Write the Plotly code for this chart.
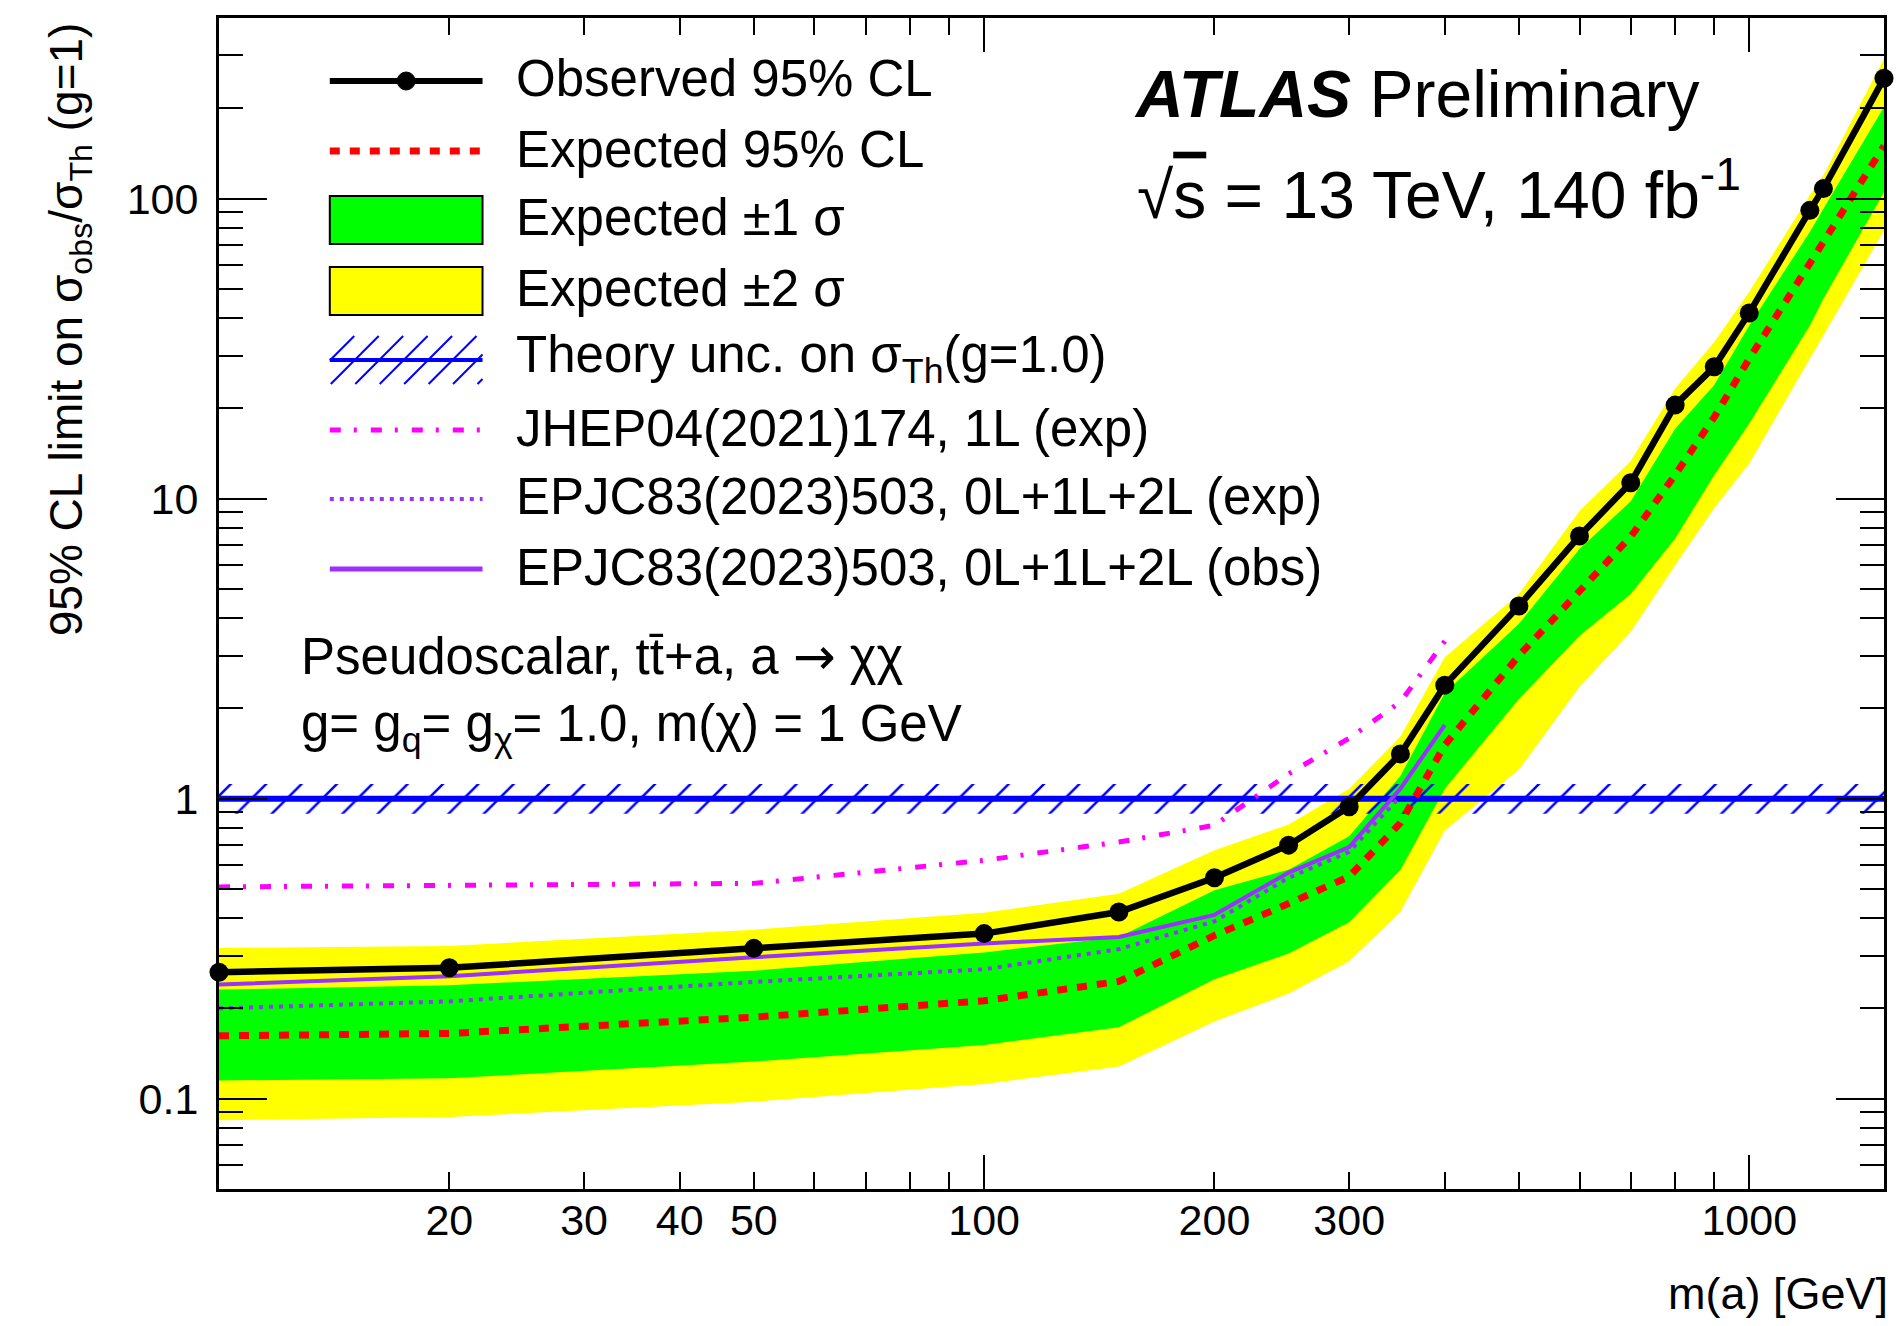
import math
import plotly.graph_objects as go

# ---------------- data ----------------
mass = [10, 20, 50, 100, 150, 200, 250, 300, 350, 400, 500, 600, 700, 800, 900, 1000, 1200, 1250, 1500]
observed = [0.264, 0.273, 0.317, 0.355, 0.419, 0.545, 0.700, 0.940, 1.41, 2.39, 4.39, 7.51, 11.3, 20.5, 27.5, 41.6, 91.4, 108.0, 252.0]
expected = [0.162, 0.165, 0.187, 0.212, 0.246, 0.350, 0.447, 0.550, 0.830, 1.51, 3.00, 4.88, 7.47, 12.0, 18.7, 29.3, 59.9, 71.7, 150.0]
exp_plus1 = [0.231, 0.239, 0.267, 0.307, 0.346, 0.495, 0.580, 0.750, 1.19, 2.25, 3.83, 6.80, 9.80, 17.1, 23.9, 37.8, 77.4, 92.6, 202.0]
exp_minus1 = [0.115, 0.117, 0.133, 0.151, 0.173, 0.250, 0.305, 0.387, 0.578, 1.08, 2.15, 3.49, 4.81, 7.36, 12.0, 17.8, 37.8, 46.4, 105.0]
exp_plus2 = [0.318, 0.323, 0.366, 0.417, 0.482, 0.673, 0.820, 1.08, 1.61, 2.96, 4.81, 9.10, 13.35, 23.3, 33.3, 48.9, 102.6, 119.6, 293.0]
exp_minus2 = [0.0847, 0.0869, 0.0977, 0.112, 0.128, 0.181, 0.224, 0.287, 0.420, 0.783, 1.25, 2.36, 3.60, 6.00, 9.30, 13.1, 29.3, 35.0, 78.4]

jhep_mass = [10, 20, 50, 100, 150, 200, 250, 300, 350, 400]
jhep_exp = [0.508, 0.512, 0.522, 0.623, 0.717, 0.815, 1.21, 1.59, 2.10, 3.35]

epjc_obs_mass = [10, 20, 50, 100, 150, 200, 250, 300, 350, 400]
epjc_obs = [0.240, 0.256, 0.296, 0.329, 0.346, 0.410, 0.567, 0.690, 1.08, 1.76]
epjc_exp_mass = [10, 20, 50, 100, 150, 200, 250, 300, 350]
epjc_exp = [0.200, 0.211, 0.245, 0.270, 0.315, 0.390, 0.545, 0.665, 1.02]

theory_mass = [10, 1500]
theory_central = [1.0, 1.0]
theory_up = [1.12, 1.12]
theory_down = [0.89, 0.89]

x_major_ticks = [100, 1000]
x_minor_ticks = [20, 30, 40, 50, 60, 70, 80, 90, 200, 300, 400, 500, 600, 700, 800, 900]
x_extra_labels = [20, 30, 40, 50, 200, 300]
y_major_ticks = [0.1, 1, 10, 100]
y_major_text = ["0.1", "1", "10", "100"]
y_minor_ticks = [0.06, 0.07, 0.08, 0.09, 0.2, 0.3, 0.4, 0.5, 0.6, 0.7, 0.8, 0.9,
                 2, 3, 4, 5, 6, 7, 8, 9, 20, 30, 40, 50, 60, 70, 80, 90, 200, 300]
x_range = [10, 1500]
y_range = [0.05, 400]

legend_labels = [
    "Observed 95% CL",
    "Expected 95% CL",
    "Expected \u00b11 \u03c3",
    "Expected \u00b12 \u03c3",
    "Theory unc. on \u03c3<sub>Th</sub>(g=1.0)",
    "JHEP04(2021)174, 1L (exp)",
    "EPJC83(2023)503, 0L+1L+2L (exp)",
    "EPJC83(2023)503, 0L+1L+2L (obs)",
]

# ---------------- styling ----------------
W, H = 1896, 1326
X0, X1, Y0, Y1 = 219, 1887, 18, 1189   # plot area in pixels
FONT = "Liberation Sans, Arial, Helvetica, sans-serif"
YELLOW = "#ffff00"
GREEN = "#00ff00"
RED = "#ff0000"
BLUE = "#0000ff"
MAGENTA = "#ff00ff"
PURPLE = "#9b30ff"


def px(x):
    return (x - X0) / (X1 - X0)


def py(y):
    return (Y1 - y) / (Y1 - Y0)


fig = go.Figure()

# +-2 sigma band
fig.add_trace(go.Scatter(
    x=mass + mass[::-1], y=exp_plus2 + exp_minus2[::-1],
    fill="toself", fillcolor=YELLOW, mode="lines", line=dict(width=0, color=YELLOW),
    hoverinfo="skip", showlegend=False))
# +-1 sigma band
fig.add_trace(go.Scatter(
    x=mass + mass[::-1], y=exp_plus1 + exp_minus1[::-1],
    fill="toself", fillcolor=GREEN, mode="lines", line=dict(width=0, color=GREEN),
    hoverinfo="skip", showlegend=False))
# theory uncertainty hatched band
fig.add_trace(go.Scatter(
    x=theory_mass + theory_mass[::-1], y=theory_up + theory_down[::-1],
    fill="toself", fillcolor="rgba(0,0,0,0)", mode="lines",
    line=dict(width=0, color=BLUE),
    fillpattern=dict(shape="/", fgcolor=BLUE, fgopacity=1, bgcolor="rgba(0,0,0,0)",
                     size=25, solidity=0.1),
    hoverinfo="skip", showlegend=False))
fig.add_trace(go.Scatter(
    x=theory_mass, y=theory_central, mode="lines",
    line=dict(color=BLUE, width=6), hoverinfo="skip", showlegend=False))
# JHEP
fig.add_trace(go.Scatter(
    x=jhep_mass, y=jhep_exp, mode="lines",
    line=dict(color=MAGENTA, width=5, dash="11px,13px,3px,14px"),
    showlegend=False))
# EPJC exp
fig.add_trace(go.Scatter(
    x=epjc_exp_mass, y=epjc_exp, mode="lines",
    line=dict(color=PURPLE, width=4, dash="4px,6px"), showlegend=False))
# EPJC obs
fig.add_trace(go.Scatter(
    x=epjc_obs_mass, y=epjc_obs, mode="lines",
    line=dict(color=PURPLE, width=4), showlegend=False))
# expected
fig.add_trace(go.Scatter(
    x=mass, y=expected, mode="lines",
    line=dict(color=RED, width=7, dash="10px,10px"), showlegend=False))
# observed
fig.add_trace(go.Scatter(
    x=mass, y=observed, mode="lines+markers",
    line=dict(color="black", width=6.5), marker=dict(color="black", size=19),
    cliponaxis=False, showlegend=False))
# invisible trace carrying the extra x label axis
fig.add_trace(go.Scatter(
    x=mass, y=observed, xaxis="x2", mode="lines", line=dict(width=0),
    opacity=0, hoverinfo="skip", showlegend=False))

xr = [math.log10(v) for v in x_range]
yr = [math.log10(v) for v in y_range]

fig.update_layout(
    width=W, height=H, autosize=False,
    margin=dict(l=X0, r=W - X1, t=Y0, b=H - Y1, pad=0),
    paper_bgcolor="white", plot_bgcolor="white",
    font=dict(family=FONT, color="black"),
    xaxis=dict(
        type="log", range=xr, showgrid=False, zeroline=False,
        showline=True, linecolor="black", linewidth=3, mirror="ticks",
        ticks="inside", ticklen=34, tickwidth=2, tickcolor="black",
        tickmode="array", tickvals=x_major_ticks, ticktext=[str(v) for v in x_major_ticks],
        tickfont=dict(size=43, family=FONT), ticklabelstandoff=-9,
        minor=dict(ticks="inside", ticklen=17, tickwidth=2, tickcolor="black",
                   tickmode="array", tickvals=x_minor_ticks, showgrid=False),
    ),
    xaxis2=dict(
        type="log", range=xr, overlaying="x", anchor="y", side="bottom",
        showgrid=False, zeroline=False, showline=True, linecolor="black", linewidth=3,
        ticks="", tickmode="array", tickvals=x_extra_labels,
        ticktext=[str(v) for v in x_extra_labels],
        tickfont=dict(size=43, family=FONT), ticklabelstandoff=-9,
    ),
    yaxis=dict(
        type="log", range=yr, showgrid=False, zeroline=False,
        showline=True, linecolor="black", linewidth=3, mirror="ticks",
        ticks="inside", ticklen=48, tickwidth=2, tickcolor="black",
        tickmode="array", tickvals=y_major_ticks, ticktext=y_major_text,
        tickfont=dict(size=43, family=FONT), ticklabelstandoff=9,
        minor=dict(ticks="inside", ticklen=24, tickwidth=2, tickcolor="black",
                   tickmode="array", tickvals=y_minor_ticks, showgrid=False),
    ),
)

# ---------------- legend drawn by hand ----------------
shapes = []
annotations = []
row_y = [81, 151, 220, 291, 360, 430, 499, 569]
LX0, LX1 = 330, 483
TX = 515

# observed: line + marker
shapes.append(dict(type="line", xref="paper", yref="paper", x0=px(LX0), x1=px(LX1),
                   y0=py(row_y[0]), y1=py(row_y[0]), line=dict(color="black", width=6)))
r = 9
cx = (LX0 + LX1) / 2
shapes.append(dict(type="circle", xref="paper", yref="paper",
                   x0=px(cx - r), x1=px(cx + r), y0=py(row_y[0] + r), y1=py(row_y[0] - r),
                   fillcolor="black", line=dict(color="black", width=1)))
# expected
shapes.append(dict(type="line", xref="paper", yref="paper", x0=px(LX0), x1=px(LX1),
                   y0=py(row_y[1]), y1=py(row_y[1]), line=dict(color=RED, width=7, dash="10px,10px")))
# green & yellow boxes
for ri, col in [(2, GREEN), (3, YELLOW)]:
    shapes.append(dict(type="rect", xref="paper", yref="paper", x0=px(LX0), x1=px(LX1),
                       y0=py(row_y[ri] + 24), y1=py(row_y[ri] - 24),
                       fillcolor=col, line=dict(color="black", width=2)))
# hatched theory sample
hy_top, hy_bot = row_y[4] - 24, row_y[4] + 24
hh = hy_bot - hy_top
xb = LX0 - hh
while xb < LX1:
    t0 = max(0, LX0 - xb)
    t1 = min(hh, LX1 - xb)
    if t1 > t0:
        shapes.append(dict(type="line", xref="paper", yref="paper",
                           x0=px(xb + t0), y0=py(hy_bot - t0), x1=px(xb + t1), y1=py(hy_bot - t1),
                           line=dict(color=BLUE, width=2)))
    xb += 24.5
shapes.append(dict(type="line", xref="paper", yref="paper", x0=px(LX0), x1=px(LX1),
                   y0=py(row_y[4]), y1=py(row_y[4]), line=dict(color=BLUE, width=4)))
# JHEP
shapes.append(dict(type="line", xref="paper", yref="paper", x0=px(LX0), x1=px(LX1),
                   y0=py(row_y[5]), y1=py(row_y[5]),
                   line=dict(color=MAGENTA, width=5, dash="11px,13px,3px,14px")))
# EPJC exp
shapes.append(dict(type="line", xref="paper", yref="paper", x0=px(LX0), x1=px(LX1),
                   y0=py(row_y[6]), y1=py(row_y[6]),
                   line=dict(color=PURPLE, width=4, dash="4px,6px")))
# EPJC obs
shapes.append(dict(type="line", xref="paper", yref="paper", x0=px(LX0), x1=px(LX1),
                   y0=py(row_y[7]), y1=py(row_y[7]), line=dict(color=PURPLE, width=5)))

for yy, lab in zip(row_y, legend_labels):
    annotations.append(dict(xref="paper", yref="paper", x=px(TX), y=py(yy - 2),
                            xanchor="left", yanchor="middle", showarrow=False,
                            text=lab, font=dict(size=51, family=FONT, color="black")))

# ---------------- other text ----------------
annotations.append(dict(xref="paper", yref="paper", x=px(1134), y=py(94),
                        xanchor="left", yanchor="middle", showarrow=False,
                        text="<b><i>ATLAS</i></b> Preliminary",
                        font=dict(size=66, family=FONT, color="black")))
annotations.append(dict(xref="paper", yref="paper", x=px(1137), y=py(190),
                        xanchor="left", yanchor="middle", showarrow=False,
                        text="\u221a<span style='text-decoration:overline'>s</span> = 13 TeV, 140 fb<sup>-1</sup>",
                        font=dict(size=66, family=FONT, color="black")))
annotations.append(dict(xref="paper", yref="paper", x=px(299), y=py(656),
                        xanchor="left", yanchor="middle", showarrow=False,
                        text="Pseudoscalar, tt\u0304+a, a <span style='font-family:DejaVu Sans'>\u2192</span> \u03c7\u03c7",
                        font=dict(size=51, family=FONT, color="black")))
annotations.append(dict(xref="paper", yref="paper", x=px(299), y=py(727),
                        xanchor="left", yanchor="middle", showarrow=False,
                        text="g= g<sub>q</sub>= g<sub>\u03c7</sub>= 1.0, m(\u03c7) = 1 GeV",
                        font=dict(size=51, family=FONT, color="black")))
annotations.append(dict(xref="paper", yref="paper", x=px(69), y=py(20),
                        xanchor="center", yanchor="top", showarrow=False, textangle=-90,
                        text="95% CL limit on \u03c3<sub>obs</sub>/\u03c3<sub>Th</sub> (g=1)",
                        font=dict(size=46, family=FONT, color="black")))
annotations.append(dict(xref="paper", yref="paper", x=px(1893), y=py(1293),
                        xanchor="right", yanchor="middle", showarrow=False,
                        text="m(a) [GeV]",
                        font=dict(size=45, family=FONT, color="black")))

fig.update_layout(shapes=shapes, annotations=annotations)

fig.write_html("out.html", config={"displayModeBar": False},
               post_script="document.body.style.margin='0';document.body.style.overflow='hidden';")
